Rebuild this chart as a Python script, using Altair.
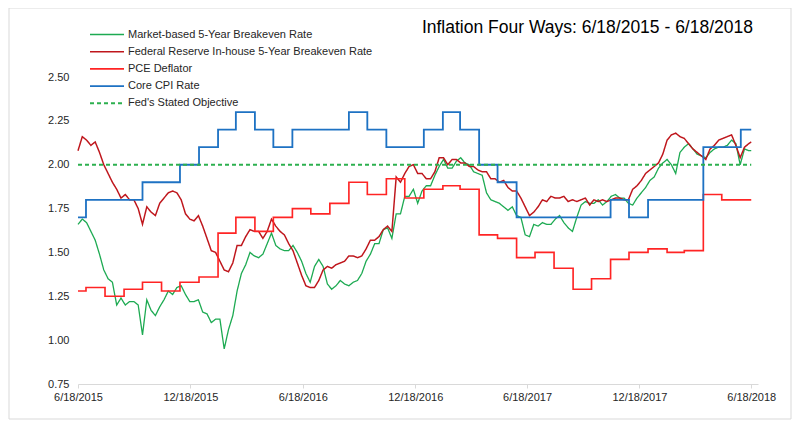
import altair as alt
import pandas as pd

SERIES = [
    "Market-based 5-Year Breakeven Rate",
    "Federal Reserve In-house 5-Year Breakeven Rate",
    "PCE Deflator",
    "Core CPI Rate",
    "Fed's Stated Objective",
]
COLORS = ["#1DAA52", "#BF161C", "#FF2424", "#1E72C3", "#2DB04F"]
WIDTHS = [1.3, 2.0, 2.0, 3.8, 1.5]
DASHES = [[1, 0], [1, 0], [1, 0], [1, 0], [4, 3]]

TITLE = "Inflation Four Ways: 6/18/2015 - 6/18/2018"
TICK_DATES = ["2015-06-18", "2015-12-18", "2016-06-18", "2016-12-18",
              "2017-06-18", "2017-12-18", "2018-06-18"]
Y_TICKS = [0.75, 1.00, 1.25, 1.50, 1.75, 2.00, 2.25, 2.50]

# weekly observations plus the final day
week_dates = list(pd.date_range("2015-06-18", periods=157, freq="7D")) + [pd.Timestamp("2018-06-18")]

market = [
    1.66, 1.69, 1.67, 1.62, 1.57, 1.49, 1.40, 1.35, 1.33, 1.20,
    1.24, 1.20, 1.22, 1.22, 1.20, 1.03, 1.23, 1.17, 1.14, 1.19,
    1.23, 1.28, 1.26, 1.30, 1.31, 1.26, 1.22, 1.22, 1.23, 1.16,
    1.15, 1.10, 1.12, 1.12, 0.95, 1.06, 1.14, 1.28, 1.38, 1.43,
    1.50, 1.48, 1.47, 1.49, 1.55, 1.61, 1.54, 1.52, 1.51, 1.51,
    1.54, 1.50, 1.45, 1.38, 1.33, 1.42, 1.46, 1.42, 1.32, 1.29,
    1.31, 1.34, 1.32, 1.31, 1.33, 1.34, 1.38, 1.45, 1.49, 1.55,
    1.55, 1.63, 1.64, 1.58, 1.72, 1.72, 1.82, 1.82, 1.86, 1.78,
    1.85, 1.88, 1.88, 1.94, 1.99, 2.03, 1.98, 1.98, 2.02, 2.04,
    2.01, 2.00, 1.96, 1.95, 1.94, 1.84, 1.80, 1.79, 1.78, 1.76,
    1.74, 1.76, 1.71, 1.70, 1.60, 1.59, 1.66, 1.65, 1.67, 1.66,
    1.66, 1.69, 1.71, 1.67, 1.64, 1.62, 1.70, 1.77, 1.79, 1.78,
    1.78, 1.80, 1.77, 1.79, 1.82, 1.83, 1.81, 1.81, 1.78, 1.77,
    1.81, 1.84, 1.87, 1.91, 1.93, 1.98, 2.01, 2.03, 2.00, 1.95,
    2.07, 2.10, 2.12, 2.09, 2.06, 2.05, 2.04, 2.07, 2.09, 2.10,
    2.10, 2.11, 2.14, 2.12, 2.00, 2.09, 2.08, 2.08,
]

fed_inhouse = [
    2.08, 2.16, 2.14, 2.11, 2.13, 2.07, 2.00, 1.95, 1.90, 1.86,
    1.81, 1.83, 1.80, 1.80, 1.75, 1.66, 1.76, 1.73, 1.71, 1.78,
    1.81, 1.84, 1.85, 1.84, 1.80, 1.72, 1.69, 1.68, 1.71, 1.65,
    1.58, 1.51, 1.50, 1.45, 1.40, 1.39, 1.44, 1.54, 1.54, 1.59,
    1.63, 1.62, 1.62, 1.58, 1.62, 1.69, 1.65, 1.62, 1.60, 1.55,
    1.51, 1.44, 1.37, 1.31, 1.30, 1.30, 1.34, 1.40, 1.42, 1.41,
    1.43, 1.44, 1.45, 1.48, 1.48, 1.47, 1.48, 1.52, 1.57, 1.57,
    1.59, 1.63, 1.65, 1.62, 1.93, 1.90, 1.95, 1.99, 2.00, 1.95,
    1.95, 1.92, 1.92, 1.96, 2.04, 2.04, 2.00, 2.03, 2.03, 2.01,
    2.01, 1.99, 1.99, 1.97, 1.96, 1.96, 1.92, 1.92, 1.90, 1.91,
    1.87, 1.85, 1.85, 1.81, 1.76, 1.71, 1.73, 1.76, 1.80, 1.79,
    1.82, 1.81, 1.81, 1.82, 1.79, 1.80, 1.79, 1.80, 1.81, 1.77,
    1.80, 1.79, 1.80, 1.79, 1.80, 1.81, 1.81, 1.80, 1.80, 1.86,
    1.88, 1.91, 1.95, 1.97, 1.99, 2.01, 2.06, 2.14, 2.17, 2.18,
    2.16, 2.15, 2.12, 2.09, 2.07, 2.05, 2.03, 2.09, 2.11, 2.14,
    2.15, 2.16, 2.17, 2.11, 2.04, 2.10, 2.12, 2.13,
]

month_dates = [
    "2015-06-18", "2015-07-01", "2015-08-01", "2015-09-01", "2015-10-01", "2015-11-01", "2015-12-01",
    "2016-01-01", "2016-02-01", "2016-03-01", "2016-04-01", "2016-05-01", "2016-06-01",
    "2016-07-01", "2016-08-01", "2016-09-01", "2016-10-01", "2016-11-01", "2016-12-01",
    "2017-01-01", "2017-02-01", "2017-03-01", "2017-04-01", "2017-05-01", "2017-06-01",
    "2017-07-01", "2017-08-01", "2017-09-01", "2017-10-01", "2017-11-01", "2017-12-01",
    "2018-01-01", "2018-02-01", "2018-03-01", "2018-04-01", "2018-05-01", "2018-06-01",
    "2018-06-18",
]
pce = [1.28, 1.30, 1.25, 1.29, 1.33, 1.28, 1.33,
       1.36, 1.61, 1.70, 1.62, 1.70, 1.75,
       1.72, 1.78, 1.90, 1.83, 1.92, 1.81,
       1.86, 1.88, 1.86, 1.60, 1.58, 1.47,
       1.50, 1.41, 1.29, 1.35, 1.46, 1.50,
       1.52, 1.50, 1.51, 1.83, 1.80, 1.80,
       1.80]
core_cpi = [1.70, 1.80, 1.80, 1.80, 1.90, 1.90, 2.00,
            2.10, 2.20, 2.30, 2.20, 2.10, 2.20,
            2.20, 2.20, 2.30, 2.20, 2.10, 2.10,
            2.20, 2.30, 2.20, 2.00, 1.90, 1.70,
            1.70, 1.70, 1.70, 1.70, 1.80, 1.70,
            1.80, 1.80, 1.80, 2.10, 2.10, 2.20,
            2.20]

objective_dates = ["2015-06-18", "2018-06-18"]
objective = [2.00, 2.00]

# ---- tables ----
daily = pd.DataFrame({
    "date": week_dates * 2,
    "value": market + fed_inhouse,
    "series": [SERIES[0]] * len(market) + [SERIES[1]] * len(fed_inhouse),
})
mdates = pd.to_datetime(month_dates)
monthly = pd.DataFrame({
    "date": list(mdates) * 2,
    "value": pce + core_cpi,
    "series": [SERIES[2]] * len(pce) + [SERIES[3]] * len(core_cpi),
})
obj = pd.DataFrame({
    "date": pd.to_datetime(objective_dates),
    "value": objective,
    "series": [SERIES[4]] * 2,
})


def dt(s):
    t = pd.Timestamp(s)
    return alt.DateTime(year=t.year, month=t.month, date=t.day)


x_enc = alt.X(
    "date:T",
    title=None,
    scale=alt.Scale(domain=[dt("2015-06-18"), dt("2018-06-29")]),
    axis=alt.Axis(values=[dt(d) for d in TICK_DATES], format="%-m/%-d/%Y",
                  grid=False, domainColor="#d9d9d9", tickColor="#d9d9d9",
                  tickSize=4, labelPadding=3, labelFontSize=11, labelColor="#262626",
                  labelFont="Liberation Sans", labelOverlap=False, labelFlush=False),
)
y_enc = alt.Y(
    "value:Q",
    title=None,
    scale=alt.Scale(domain=[0.75, 2.5], nice=False, zero=False),
    axis=alt.Axis(values=Y_TICKS, format=".2f", grid=False, domain=False, ticks=False,
                  labelPadding=9, labelFontSize=11, labelColor="#262626",
                  labelFont="Liberation Sans"),
)
color_enc = alt.Color("series:N", scale=alt.Scale(domain=SERIES, range=COLORS), title=None)
dash_enc = alt.StrokeDash("series:N", scale=alt.Scale(domain=SERIES, range=DASHES), title=None)
width_enc = alt.StrokeWidth("series:N", scale=alt.Scale(domain=SERIES, range=WIDTHS), title=None)

enc = dict(x=x_enc, y=y_enc, color=color_enc, strokeDash=dash_enc, strokeWidth=width_enc,
           detail="series:N")

daily_layer = alt.Chart(daily).mark_line(interpolate="linear").encode(**enc)
monthly_layer = alt.Chart(monthly).mark_line(interpolate="step-after").encode(**enc)
obj_layer = alt.Chart(obj).mark_line().encode(**enc)

frame = alt.Chart(pd.DataFrame({"k": [0]})).mark_rect(
    filled=False, stroke="#d9d9d9", strokeWidth=1
).encode(x=alt.value(-69), x2=alt.value(713), y=alt.value(-69), y2=alt.value(342))

title_layer = alt.Chart(pd.DataFrame({"t": [TITLE]})).mark_text(
    align="right", baseline="alphabetic", fontSize=17.5, font="Liberation Sans", color="#000000"
).encode(text="t:N", x=alt.value(675), y=alt.value(-44))

chart = alt.layer(frame, daily_layer, monthly_layer, obj_layer, title_layer).properties(
    width=680,
    height=307,
    autosize=alt.AutoSizeParams(type="none"),
    padding={"left": 70, "top": 69, "right": 34, "bottom": 38},
).configure_view(stroke=None).configure_legend(
    orient="none",
    legendX=19.5,
    legendY=-52,
    symbolType="M-2,0L2,0",
    symbolSize=289,
    labelFontSize=11,
    labelFont="Liberation Sans",
    labelColor="#262626",
    labelOffset=11.5,
    rowPadding=2.2,
    padding=0,
    labelLimit=400,
)

chart.save("out.html", embed_options={"renderer": "svg", "actions": False})
